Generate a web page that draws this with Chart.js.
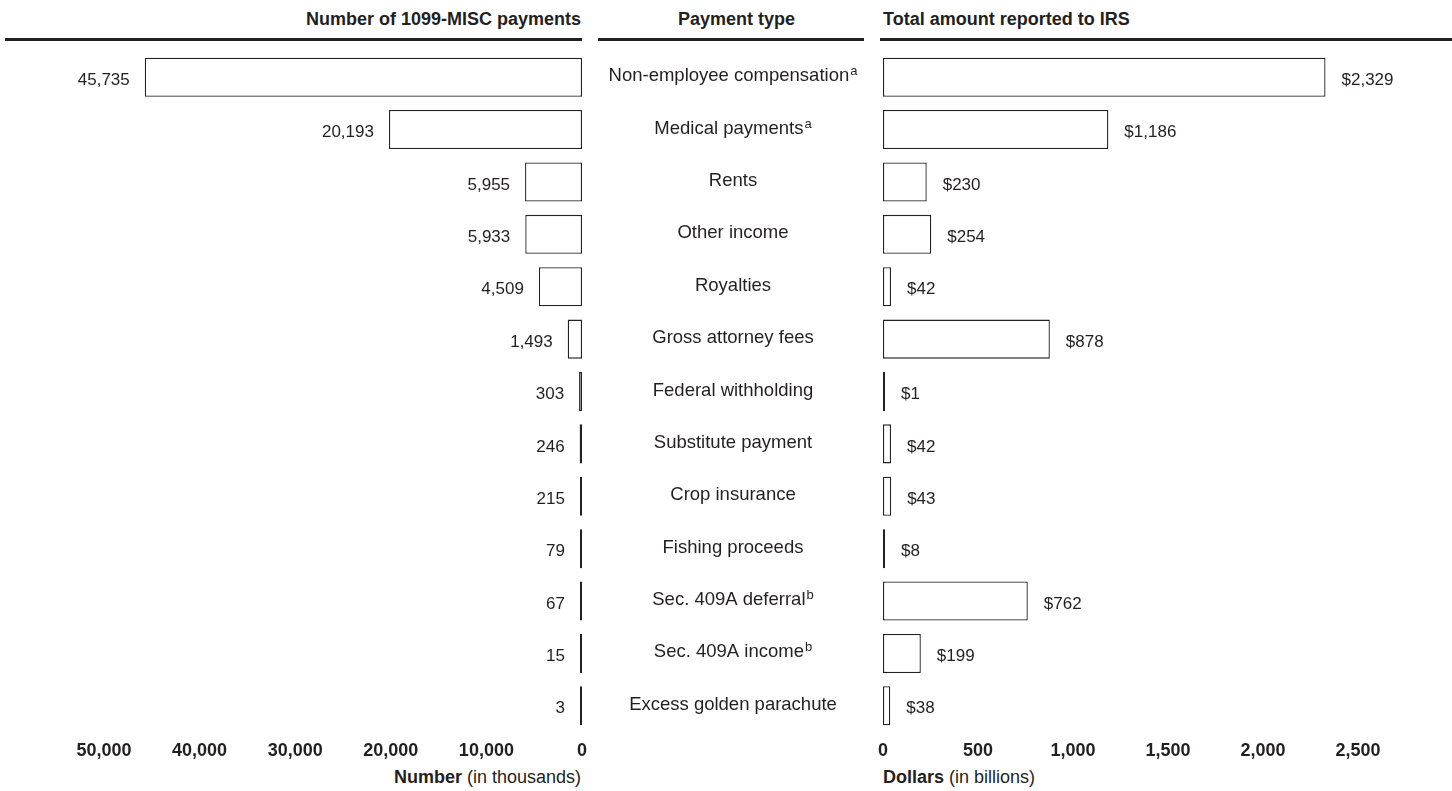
<!DOCTYPE html>
<html>
<head>
<meta charset="utf-8">
<script src="https://cdn.jsdelivr.net/npm/chart.js@4.4.1/dist/chart.umd.min.js"></script>
<style>
	body { margin: 0; background: #fff; width: 1452px; height: 791px; overflow: hidden; position: relative; font-family: 'Liberation Sans', Arial, sans-serif; color: #231f20; }
	canvas { position: absolute; top: 0; }
	#leftChart { left: 0; }
	#rightChart { left: 590px; }
	.head { position: absolute; top: 9px; font-weight: bold; font-size: 18px; white-space: nowrap; }
	.rule { position: absolute; top: 38px; height: 3px; background: #231f20; }
	.axisTitle { position: absolute; top: 767px; font-size: 18px; white-space: nowrap; }
</style>
</head>
<body>
<div class="head" style="right: 871px;">Number of 1099-MISC payments</div>
<div class="head" style="left: 678px;">Payment type</div>
<div class="head" style="left: 883px;">Total amount reported to IRS</div>
<div class="rule" style="left: 5px; width: 577px;"></div>
<div class="rule" style="left: 598px; width: 266px;"></div>
<div class="rule" style="left: 880px; width: 572px;"></div>
<div class="axisTitle" style="right: 871px;"><b>Number</b> (in thousands)</div>
<div class="axisTitle" style="left: 883px;"><b>Dollars</b> (in billions)</div>
<canvas id="leftChart" width="600" height="791"></canvas>
<canvas id="rightChart" width="862" height="791"></canvas>
<script>
const paymentTypes = ['Non-employee compensation', 'Medical payments', 'Rents', 'Other income', 'Royalties',
	'Gross attorney fees', 'Federal withholding', 'Substitute payment', 'Crop insurance', 'Fishing proceeds',
	'Sec. 409A deferral', 'Sec. 409A income', 'Excess golden parachute'];
const footnotes = ['a', 'a', '', '', '', '', '', '', '', '', 'b', 'b', ''];
const paymentCounts = [45735, 20193, 5955, 5933, 4509, 1493, 303, 246, 215, 79, 67, 15, 3];
const dollarAmounts = [2329, 1186, 230, 254, 42, 878, 1, 42, 43, 8, 762, 199, 38];
const countTicks = [0, 10000, 20000, 30000, 40000, 50000];
const dollarTicks = [0, 500, 1000, 1500, 2000, 2500];

const FONT = "'Liberation Sans', Arial, sans-serif";
const INK = '#231f20';
Chart.defaults.font.family = FONT;
Chart.defaults.color = INK;

function fmt(v) {
	return v.toLocaleString('en-US');
}

// draws the number next to the end of each bar
function valueLabels(side, prefix) {
	return {
		id: 'valueLabels',
		afterDatasetsDraw(chart) {
			const ctx = chart.ctx;
			const meta = chart.getDatasetMeta(0);
			const data = chart.data.datasets[0].data;
			ctx.save();
			ctx.font = '17px ' + FONT;
			ctx.fillStyle = INK;
			ctx.textBaseline = 'middle';
			meta.data.forEach((bar, i) => {
				const text = prefix + fmt(data[i]);
				if (side === 'left') {
					ctx.textAlign = 'right';
					ctx.fillText(text, bar.x - 15, bar.y + 3);
				} else {
					ctx.textAlign = 'left';
					ctx.fillText(text, bar.x + 16, bar.y + 3);
				}
			});
			ctx.restore();
		}
	};
}

// payment type names in the middle column, with footnote letters
const categoryLabels = {
	id: 'categoryLabels',
	afterDraw(chart) {
		const ctx = chart.ctx;
		const yScale = chart.scales.y;
		const cx = 733 - 590;
		ctx.save();
		ctx.fillStyle = INK;
		ctx.textBaseline = 'alphabetic';
		paymentTypes.forEach((name, i) => {
			const y = yScale.getPixelForValue(i) + 4;
			ctx.font = '18.5px ' + FONT;
			const w = ctx.measureText(name).width;
			ctx.font = '13px ' + FONT;
			const sw = footnotes[i] ? ctx.measureText(footnotes[i]).width + 1 : 0;
			const x0 = cx - (w + sw) / 2;
			ctx.textAlign = 'left';
			ctx.font = '18.5px ' + FONT;
			ctx.fillText(name, x0, y);
			if (footnotes[i]) {
				ctx.font = '13px ' + FONT;
				ctx.fillText(footnotes[i], x0 + w + 1, y - 6);
			}
		});
		ctx.restore();
	}
};

function barOptions(ticks, max, reverse, padding) {
	return {
		responsive: false,
		animation: false,
		indexAxis: 'y',
		layout: { padding: padding },
		plugins: { legend: { display: false }, tooltip: { enabled: false } },
		scales: {
			y: { display: false },
			x: {
				min: 0,
				max: max,
				reverse: reverse,
				grid: { display: false, drawTicks: false },
				border: { display: false },
				afterBuildTicks: (scale) => { scale.ticks = ticks.map(v => ({ value: v })); },
				afterFit: (scale) => { scale.height = 59; },
				ticks: {
					padding: 8,
					maxRotation: 0,
					autoSkip: false,
					font: { size: 18, weight: 'bold' },
					color: INK,
					callback: (v) => fmt(v)
				}
			}
		}
	};
}

function barDataset(values) {
	return {
		data: values,
		backgroundColor: '#ffffff',
		borderColor: '#222222',
		borderWidth: 1.3,
		borderSkipped: false,
		minBarLength: 2,
		categoryPercentage: 1,
		barPercentage: 0.745
	};
}

new Chart(document.getElementById('leftChart'), {
	type: 'bar',
	data: { labels: paymentTypes, datasets: [barDataset(paymentCounts)] },
	options: barOptions(countTicks, 50000, true, { left: 104, right: 18, top: 51, bottom: 0 }),
	plugins: [valueLabels('left', '')]
});

new Chart(document.getElementById('rightChart'), {
	type: 'bar',
	data: { labels: paymentTypes, datasets: [barDataset(dollarAmounts)] },
	options: barOptions(dollarTicks, 2500, false, { left: 293, right: 94, top: 51, bottom: 0 }),
	plugins: [valueLabels('right', '$'), categoryLabels]
});
</script>
</body>
</html>
